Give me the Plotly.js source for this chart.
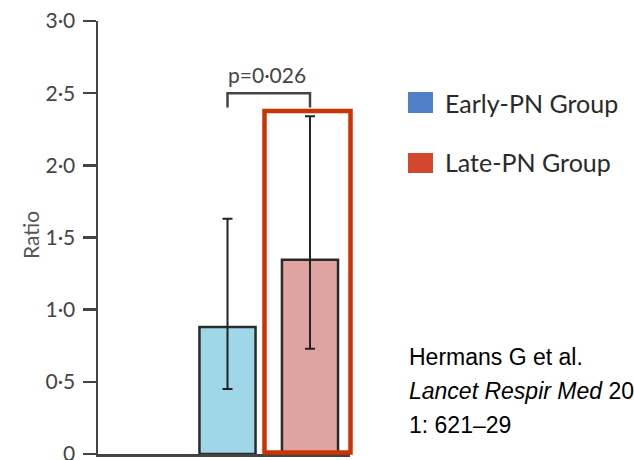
<!DOCTYPE html>
<html>
<head>
<meta charset="utf-8">
<script src="https://cdn.plot.ly/plotly-3.0.1.min.js"></script>
<style>html,body{margin:0;padding:0;background:#fff;}#chart{width:634px;height:460px;}</style>
</head>
<body>
<div id="chart"></div>
<script>
// Data
const groups = ["Early-PN Group", "Late-PN Group"];
const ratioMean = [0.88, 1.345];
const ratioUpper = [1.63, 2.34];
const ratioLower = [0.45, 0.73];
const barColors = ["#9fd6e8", "#e0a4a0"];
const legendColors = ["#4f80c8", "#d4472f"];
const yTickVals = [0, 0.5, 1.0, 1.5, 2.0, 2.5, 3.0];
const yTickText = ["0", "0·5", "1·0", "1·5", "2·0", "2·5", "3·0"];
const pLabel = "p=0·026";
const citation = ["Hermans G et al.", "<i>Lancet Respir Med</i> 20", "1: 621–29"];

const traces = groups.map((g, i) => ({
  type: "bar",
  x: [g],
  y: [ratioMean[i]],
  width: 0.68,
  marker: {color: barColors[i], line: {color: "#2a2a2a", width: 2.5}},
  error_y: {
    type: "data", symmetric: false,
    array: [ratioUpper[i] - ratioMean[i]],
    arrayminus: [ratioMean[i] - ratioLower[i]],
    color: "#222", thickness: 2, width: 5
  },
  showlegend: false,
  hoverinfo: "skip"
}));

const W = 252, H = 433; // plot area px
const px = v => (v - 98) / W;
const py = v => (454 - v) / H;

const shapes = [
  // significance bracket
  {type: "path", xref: "x", yref: "y",
   path: "M 0,2.40 L 0,2.50 L 1,2.50 L 1,2.40",
   line: {color: "#444", width: 2.5}},
  // highlight rectangle
  {type: "rect", xref: "paper", yref: "paper",
   x0: px(264.5), x1: px(350.5), y0: py(452.5), y1: py(111),
   line: {color: "#cc3300", width: 4.5}, layer: "above"},
  // legend swatches
  {type: "rect", xref: "paper", yref: "paper",
   x0: px(408), x1: px(433), y0: py(113), y1: py(92),
   fillcolor: legendColors[0], line: {width: 0}},
  {type: "rect", xref: "paper", yref: "paper",
   x0: px(408), x1: px(433), y0: py(173), y1: py(153),
   fillcolor: legendColors[1], line: {width: 0}}
];

const FONT = "Lato, 'Open Sans', sans-serif";
const annotations = [
  {xref: "paper", yref: "y", x: px(267), y: 2.63, text: pLabel, showarrow: false,
   xanchor: "center", yanchor: "middle", font: {family: FONT, size: 21, color: "#444"}},
  {xref: "paper", yref: "paper", x: px(30), y: py(235), text: "Ratio", textangle: -90, showarrow: false,
   xanchor: "center", yanchor: "middle", font: {family: FONT, size: 21, color: "#555"}},
  {xref: "paper", yref: "paper", x: px(443), y: py(103), text: groups[0], showarrow: false,
   xanchor: "left", yanchor: "middle", font: {family: FONT, size: 25, color: "#2a2a2a"}},
  {xref: "paper", yref: "paper", x: px(443), y: py(162), text: groups[1], showarrow: false,
   xanchor: "left", yanchor: "middle", font: {family: FONT, size: 25, color: "#2a2a2a"}}
];
const citeY = [357, 391, 425];
citation.forEach((t, i) => annotations.push({
  xref: "paper", yref: "paper", x: px(407), y: py(citeY[i]), text: t, showarrow: false,
  xanchor: "left", yanchor: "middle",
  font: {family: "'Liberation Sans', Arial, sans-serif", size: 23, color: "#000"}
}));

const layout = {
  width: 634, height: 460,
  margin: {l: 98, r: 284, t: 21, b: 6, pad: 0},
  paper_bgcolor: "#fff", plot_bgcolor: "#fff",
  barmode: "overlay",
  showlegend: false,
  xaxis: {
    type: "category", range: [-1.57, 1.485],
    showline: true, linecolor: "#444", linewidth: 2.5,
    showticklabels: false, ticks: "", showgrid: false, zeroline: false, fixedrange: true
  },
  yaxis: {
    range: [0, 3.0], tickvals: yTickVals, ticktext: yTickText,
    showline: true, linecolor: "#444", linewidth: 2.5,
    ticks: "outside", ticklen: 13, tickwidth: 2.5, tickcolor: "#444",
    ticklabeloverflow: "allow", ticklabelstandoff: 3,
    tickfont: {family: FONT, size: 21, color: "#444"},
    showgrid: false, zeroline: false, fixedrange: true
  },
  shapes: shapes,
  annotations: annotations
};

Plotly.newPlot("chart", traces, layout, {displayModeBar: false, staticPlot: true});
</script>
</body>
</html>
